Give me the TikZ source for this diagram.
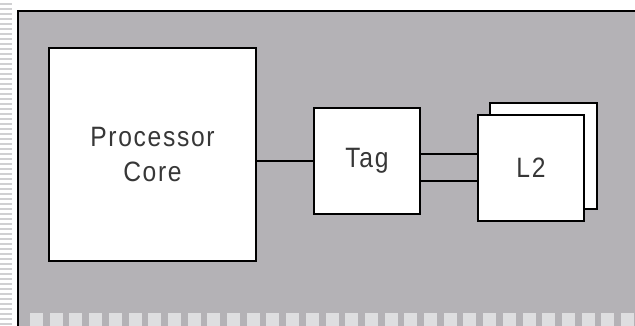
\documentclass[tikz,border=0pt]{standalone}
\usepackage{fontspec}
\usepackage{tikz}
\newfontfamily\blockfont[FakeStretch=0.88,LetterSpace=6]{Liberation Sans}
\definecolor{panelgray}{RGB}{180,178,182}
\definecolor{pinwhite}{RGB}{222,222,224}
\definecolor{stripgray}{RGB}{208,208,210}
\definecolor{textgray}{RGB}{55,55,55}
\tikzset{
  block/.style={draw, line width=1.5pt, fill=white, inner sep=0pt,
    text=textgray, align=center, font=\blockfont\fontsize{28}{35}\selectfont},
  wire/.style={line width=1.5pt}
}
\begin{document}
\begin{tikzpicture}[x=1pt, y=-1pt]
          \useasboundingbox (0,0) rectangle (635,325);

          % left strip
          \foreach \i in {0,...,64}
            \draw[stripgray, line width=1.2pt] (0,{4+5*\i}) -- (12,{4+5*\i});

          % chip panel
          \fill[panelgray] (18,11) rectangle (645,335);
          \draw[line width=1.6pt] (18,335) -- (18,11) -- (645,11);

          % pins along the bottom
          \foreach \i in {0,...,31}
            \fill[pinwhite] ({30+19.7*\i},313) rectangle +(13,14);

          % blocks
          \node[block, minimum width=207pt, minimum height=213pt] (core) at (152.5,154.5) {Processor\\Core};
          \node[block, minimum width=106pt, minimum height=106pt] (tag) at (367,161) {Tag};
          \node[block, minimum width=107pt, minimum height=106pt] (ltwoback) at (543.5,156) {};
          \node[block, minimum width=106pt, minimum height=106pt] (ltwo) at (531,168) {L2};

          % connections
          \draw[wire] (core.east |- tag.west) -- (tag.west);
          \draw[wire] (tag.east |- 0,154) -- (ltwo.west |- 0,154);
          \draw[wire] (tag.east |- 0,181) -- (ltwo.west |- 0,181);
        \end{tikzpicture}
\end{document}
